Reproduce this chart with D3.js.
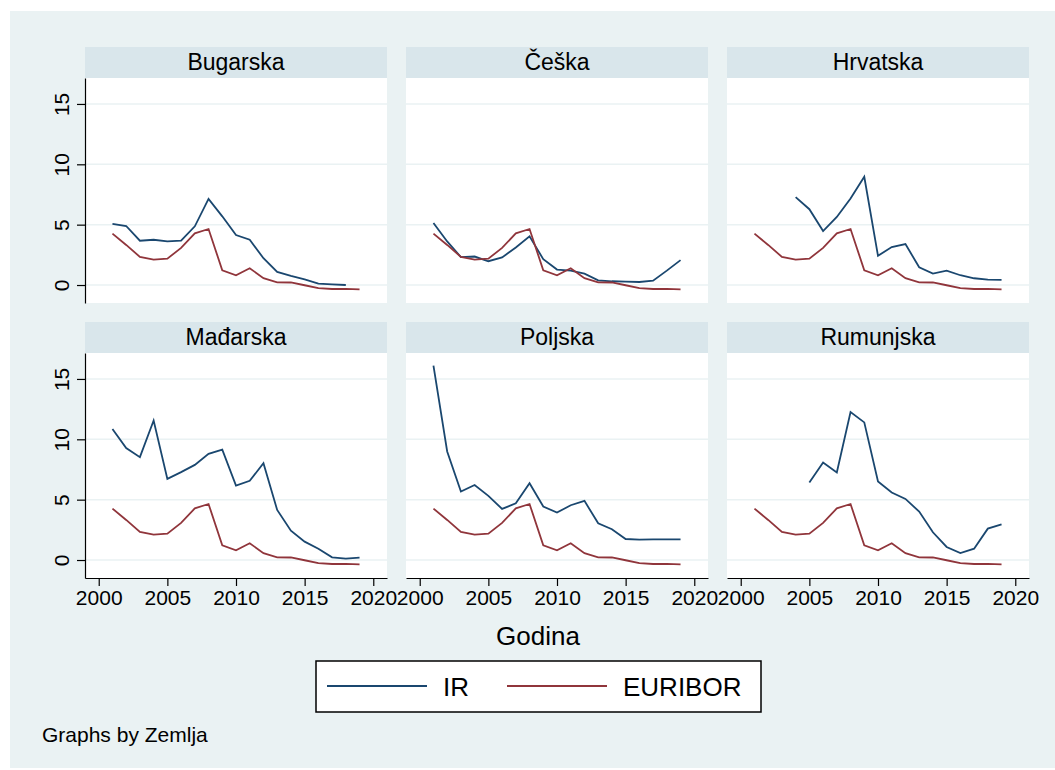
<!DOCTYPE html>
<html>
<head>
<meta charset="utf-8">
<script src="https://cdn.jsdelivr.net/npm/d3@7"></script>
<style>
  body { margin: 0; background: #ffffff; }
  svg { display: block; font-family: "Liberation Sans", Arial, sans-serif; }
</style>
</head>
<body>
<div id="chart"></div>
<script>
// loading data
var years = [2001, 2002, 2003, 2004, 2005, 2006, 2007, 2008, 2009, 2010,
             2011, 2012, 2013, 2014, 2015, 2016, 2017, 2018, 2019];

var countries = ["Bugarska", "Češka", "Hrvatska", "Mađarska", "Poljska", "Rumunjska"];

var euribor = [4.26, 3.32, 2.33, 2.11, 2.18, 3.08, 4.28, 4.64, 1.22, 0.81,
               1.39, 0.57, 0.22, 0.21, -0.02, -0.26, -0.33, -0.32, -0.36];

var irBugarska  = [5.06, 4.89, 3.67, 3.75, 3.61, 3.67, 4.86, 7.14, 5.69, 4.14,
                   3.75, 2.22, 1.08, 0.75, 0.47, 0.11, 0.06, 0.00, null];
var irCeska     = [5.14, 3.61, 2.31, 2.36, 1.97, 2.28, 3.11, 4.03, 2.14, 1.28,
                   1.19, 0.94, 0.39, 0.31, 0.28, 0.25, 0.36, 1.19, 2.06];
var irHrvatska  = [null, null, null, 7.28, 6.28, 4.47, 5.64, 7.17, 8.97, 2.42,
                   3.14, 3.39, 1.47, 0.94, 1.19, 0.81, 0.56, 0.44, 0.42];
var irMadarska  = [10.85, 9.27, 8.52, 11.56, 6.72, 7.28, 7.88, 8.80, 9.15, 6.17,
                   6.56, 8.02, 4.15, 2.43, 1.52, 0.94, 0.22, 0.11, 0.19];
var irPoljska   = [16.1, 8.99, 5.67, 6.22, 5.31, 4.23, 4.70, 6.36, 4.43, 3.93,
                   4.54, 4.90, 3.04, 2.55, 1.74, 1.69, 1.71, 1.71, 1.71];
var irRumunjska = [null, null, null, null, 6.42, 8.08, 7.25, 12.26, 11.40, 6.50,
                   5.59, 5.06, 4.01, 2.30, 1.08, 0.58, 0.94, 2.60, 2.96];

var irSeries = [irBugarska, irCeska, irHrvatska, irMadarska, irPoljska, irRumunjska];

var xTicks = [2000, 2005, 2010, 2015, 2020];
var yTicks = [0, 5, 10, 15];

var seriesNames = ["IR", "EURIBOR"];
var colors = { IR: "#1a476f", EURIBOR: "#90353b" };

// setting dimensions
var W = 1055, H = 770;
var colX = [85, 406, 727];
var rowY = [47, 322];
var panelW = 302, stripH = 31, plotH = 225;

var svg = d3.select("#chart")
    .append("svg")
    .attr("width", W)
    .attr("height", H);

// graph region background
svg.append("rect")
    .attr("x", 10).attr("y", 11)
    .attr("width", W - 10).attr("height", 757)
    .attr("fill", "#eaf2f3");

// scales shared by every panel
var x = d3.scaleLinear().domain([1999, 2021]).range([0, panelW]);
var y = d3.scaleLinear().domain([-1.49, 17.15]).range([plotH, 0]);

var line = d3.line()
    .defined(function(d) { return d[1] !== null; })
    .x(function(d) { return x(d[0]); })
    .y(function(d) { return y(d[1]); });

countries.forEach(function(name, i) {
    var col = i % 3, row = Math.floor(i / 3);
    var g = svg.append("g")
        .attr("transform", "translate(" + colX[col] + "," + rowY[row] + ")");

    // strip header
    g.append("rect")
        .attr("width", panelW).attr("height", stripH)
        .attr("fill", "#d9e6eb");
    g.append("text")
        .attr("x", panelW / 2).attr("y", 23)
        .attr("text-anchor", "middle")
        .attr("font-size", "23px")
        .text(name);

    var p = g.append("g").attr("transform", "translate(0," + stripH + ")");

    p.append("rect")
        .attr("width", panelW).attr("height", plotH)
        .attr("fill", "#ffffff");

    // gridlines
    p.selectAll(".grid")
        .data(yTicks)
        .enter()
        .append("line")
        .attr("x1", 0).attr("x2", panelW)
        .attr("y1", function(d) { return y(d); })
        .attr("y2", function(d) { return y(d); })
        .attr("stroke", "#eaf2f3")
        .attr("stroke-width", 1.5);

    // lines
    var ir = years.map(function(yr, k) { return [yr, irSeries[i][k]]; });
    var eu = years.map(function(yr, k) { return [yr, euribor[k]]; });

    p.append("path").datum(ir)
        .attr("d", line)
        .attr("fill", "none")
        .attr("stroke", colors.IR)
        .attr("stroke-width", 1.8);
    p.append("path").datum(eu)
        .attr("d", line)
        .attr("fill", "none")
        .attr("stroke", colors.EURIBOR)
        .attr("stroke-width", 1.8);

    // y axis on first column
    if (col === 0) {
        var ya = p.append("g")
            .call(d3.axisLeft(y).tickValues(yTicks).tickSize(8).tickSizeOuter(0).tickFormat(d3.format("d")));
        ya.select(".domain").attr("stroke", "#000").attr("stroke-width", 1.2);
        ya.selectAll(".tick line").attr("stroke", "#000").attr("stroke-width", 1.2);
        ya.selectAll(".tick text")
            .attr("font-size", "21px")
            .attr("font-family", "Liberation Sans, Arial, sans-serif")
            .attr("fill", "#000")
            .attr("text-anchor", "middle")
            .attr("dy", null)
            .attr("x", null)
            .attr("transform", "translate(-16,0) rotate(-90)");
    }

    // x axis on bottom row
    if (row === 1) {
        var xa = p.append("g")
            .attr("transform", "translate(0," + plotH + ")")
            .call(d3.axisBottom(x).tickValues(xTicks).tickSize(8).tickSizeOuter(0).tickFormat(d3.format("d")));
        xa.select(".domain").attr("stroke", "#000").attr("stroke-width", 1.2);
        xa.selectAll(".tick line").attr("stroke", "#000").attr("stroke-width", 1.2);
        xa.selectAll(".tick text")
            .attr("font-size", "21px")
            .attr("font-family", "Liberation Sans, Arial, sans-serif")
            .attr("fill", "#000")
            .attr("y", 12);
    }
});

// axis title
svg.append("text")
    .attr("x", 538).attr("y", 645)
    .attr("text-anchor", "middle")
    .attr("font-size", "26px")
    .text("Godina");

// legend
var legend = svg.append("g");
legend.append("rect")
    .attr("x", 316).attr("y", 661)
    .attr("width", 445).attr("height", 51)
    .attr("fill", "#ffffff")
    .attr("stroke", "#000")
    .attr("stroke-width", 1.5);

var legX = [327, 507];
seriesNames.forEach(function(s, k) {
    legend.append("line")
        .attr("x1", legX[k]).attr("x2", legX[k] + 100)
        .attr("y1", 686).attr("y2", 686)
        .attr("stroke", colors[s])
        .attr("stroke-width", 2.2);
    legend.append("text")
        .attr("x", legX[k] + 116).attr("y", 696)
        .attr("font-size", "26px")
        .text(s);
});

// note
svg.append("text")
    .attr("x", 42).attr("y", 742)
    .attr("font-size", "21px")
    .text("Graphs by Zemlja");
</script>
</body>
</html>
